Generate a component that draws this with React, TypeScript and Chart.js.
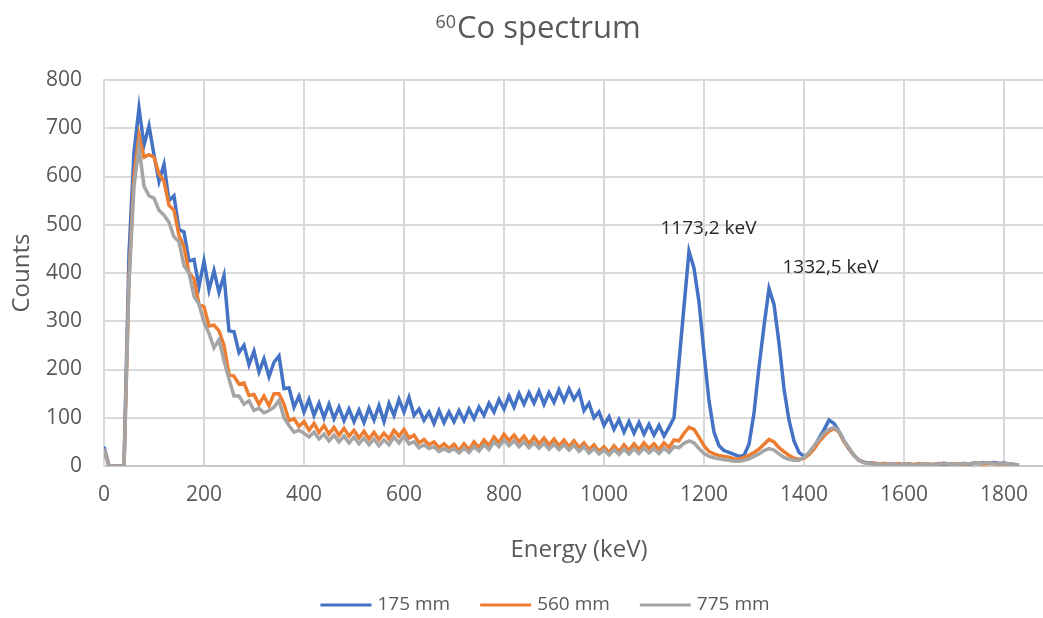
import React, { useEffect, useRef } from 'react';
import { Chart, registerables } from 'chart.js';

Chart.register(...registerables);

const energies = [
  0, 10, 20, 30, 40, 50, 60, 70, 80, 90,
  100, 110, 120, 130, 140, 150, 160, 170, 180, 190,
  200, 210, 220, 230, 240, 250, 260, 270, 280, 290,
  300, 310, 320, 330, 340, 350, 360, 370, 380, 390,
  400, 410, 420, 430, 440, 450, 460, 470, 480, 490,
  500, 510, 520, 530, 540, 550, 560, 570, 580, 590,
  600, 610, 620, 630, 640, 650, 660, 670, 680, 690,
  700, 710, 720, 730, 740, 750, 760, 770, 780, 790,
  800, 810, 820, 830, 840, 850, 860, 870, 880, 890,
  900, 910, 920, 930, 940, 950, 960, 970, 980, 990,
  1000, 1010, 1020, 1030, 1040, 1050, 1060, 1070, 1080, 1090,
  1100, 1110, 1120, 1130, 1140, 1150, 1160, 1170, 1180, 1190,
  1200, 1210, 1220, 1230, 1240, 1250, 1260, 1270, 1280, 1290,
  1300, 1310, 1320, 1330, 1340, 1350, 1360, 1370, 1380, 1390,
  1400, 1410, 1420, 1430, 1440, 1450, 1460, 1470, 1480, 1490,
  1500, 1510, 1520, 1530, 1540, 1550, 1560, 1570, 1580, 1590,
  1600, 1610, 1620, 1630, 1640, 1650, 1660, 1670, 1680, 1690,
  1700, 1710, 1720, 1730, 1740, 1750, 1760, 1770, 1780, 1790,
  1800, 1810, 1820, 1830,
];

const counts175 = [
  40, 0, 0, 0, 0, 440, 650, 742, 665, 705,
  645, 590, 625, 550, 560, 490, 485, 425, 428, 372,
  425, 365, 405, 360, 395, 280, 278, 235, 250, 210,
  238, 195, 222, 185, 215, 228, 160, 162, 122, 145,
  112, 138, 105, 130, 100, 128, 98, 122, 94, 118,
  92, 116, 90, 120, 95, 125, 92, 130, 105, 138,
  112, 142, 105, 118, 95, 112, 88, 115, 90, 112,
  92, 115, 94, 118, 98, 122, 105, 130, 112, 138,
  118, 145, 122, 150, 128, 152, 130, 155, 128, 152,
  132, 158, 135, 160, 138, 155, 115, 130, 100, 112,
  84, 102, 76, 96, 70, 92, 68, 90, 66, 86,
  64, 84, 62, 80, 100, 215, 331, 445, 410, 340,
  234, 135, 70, 42, 32, 28, 24, 20, 22, 45,
  110, 205, 290, 368, 335, 255, 160, 95, 52, 28,
  20, 24, 38, 58, 75, 95, 88, 72, 52, 35,
  22, 12, 8, 6, 5, 4, 5, 3, 4, 3,
  3, 4, 2, 3, 4, 2, 3, 5, 3, 4,
  3, 4, 5, 3, 6, 5, 7, 6, 7, 5,
  6, 4, 3, 2,
];

const counts560 = [
  35, 0, 0, 0, 0, 390, 600, 686, 640, 645,
  640, 605, 590, 540, 530, 478, 455, 400, 388, 335,
  330, 290, 292, 280, 250, 190, 186, 170, 172, 146,
  148, 128, 145, 125, 150, 150, 128, 94, 98, 82,
  92, 74, 88, 70, 84, 66, 80, 64, 78, 62,
  74, 58, 72, 56, 70, 55, 68, 56, 74, 62,
  76, 58, 64, 48, 55, 44, 50, 38, 46, 36,
  45, 32, 46, 34, 50, 38, 54, 42, 60, 48,
  66, 52, 64, 50, 62, 46, 60, 46, 58, 44,
  56, 42, 54, 40, 52, 38, 48, 34, 44, 30,
  40, 28, 42, 30, 44, 32, 46, 34, 48, 36,
  46, 34, 48, 38, 54, 52, 68, 80, 76, 60,
  42, 30, 25, 22, 20, 18, 15, 14, 18, 22,
  28, 35, 45, 55, 50, 38, 30, 22, 16, 14,
  16, 24, 35, 50, 62, 72, 78, 70, 50, 36,
  22, 12, 7, 5, 6, 4, 5, 4, 3, 5,
  3, 4, 3, 5, 3, 4, 3, 4, 6, 3,
  4, 3, 5, 4, 6, 5, 4, 6, 5, 4,
  5, 4, 3, 2,
];

const counts775 = [
  35, 0, 0, 0, 0, 380, 580, 660, 580, 560,
  555, 530, 520, 505, 475, 465, 415, 400, 352, 335,
  298, 275, 245, 262, 218, 180, 145, 145, 128, 135,
  115, 120, 110, 115, 122, 136, 100, 84, 70, 74,
  68, 60, 70, 56, 66, 52, 64, 50, 62, 48,
  60, 46, 58, 44, 56, 42, 54, 44, 60, 48,
  62, 46, 50, 38, 44, 36, 40, 30, 36, 30,
  36, 27, 37, 28, 40, 31, 44, 34, 50, 40,
  54, 42, 52, 40, 50, 38, 48, 37, 47, 35,
  45, 34, 44, 33, 43, 30, 40, 27, 36, 25,
  33, 23, 34, 24, 35, 25, 36, 26, 37, 27,
  36, 26, 37, 28, 40, 38, 47, 52, 48, 36,
  26, 20, 17, 15, 13, 12, 10, 10, 12, 15,
  20, 25, 32, 36, 33, 25, 18, 14, 12, 12,
  18, 28, 42, 55, 68, 76, 80, 72, 52, 38,
  22, 12, 7, 5, 4, 4, 3, 4, 3, 3,
  4, 3, 2, 3, 4, 3, 3, 4, 5, 4,
  3, 4, 5, 4, 6, 5, 6, 7, 5, 4,
  5, 4, 3, 2,
];

const seriesLabels = ['175 mm', '560 mm', '775 mm'];
const seriesColors = ['#4472C4', '#ED7D31', '#A5A5A5'];
const xTicks = [0, 200, 400, 600, 800, 1000, 1200, 1400, 1600, 1800];
const yTicks = [0, 100, 200, 300, 400, 500, 600, 700, 800];
const peakLabels = ['1173,2 keV', '1332,5 keV'];
const peakLabelEnergy = [1209, 1453];
const peakLabelCounts = [492, 411];

const FONT = '"Open Sans", "Noto Sans", sans-serif';

const titlePlugin = {
  id: 'coTitle',
  afterDraw(chart: any) {
    const ctx = chart.ctx as CanvasRenderingContext2D;
    ctx.save();
    const sup = '60';
    const main = 'Co spectrum';
    ctx.font = `18px ${FONT}`;
    const w1 = ctx.measureText(sup).width;
    ctx.font = `31px ${FONT}`;
    const w2 = ctx.measureText(main).width;
    const start = chart.width / 2 - (w1 + 1 + w2) / 2;
    ctx.fillStyle = '#595959';
    ctx.textBaseline = 'alphabetic';
    ctx.textAlign = 'left';
    ctx.font = `18px ${FONT}`;
    ctx.fillText(sup, start, 28);
    ctx.font = `31px ${FONT}`;
    ctx.fillText(main, start + w1 + 1, 38);
    ctx.restore();
  },
};

const peakLabelPlugin = {
  id: 'peakLabels',
  afterDatasetsDraw(chart: any) {
    const ctx = chart.ctx as CanvasRenderingContext2D;
    const xs = chart.scales.x;
    const ys = chart.scales.y;
    ctx.save();
    ctx.font = `19px ${FONT}`;
    ctx.fillStyle = '#262626';
    ctx.textAlign = 'center';
    ctx.textBaseline = 'middle';
    peakLabels.forEach((t, i) => {
      ctx.fillText(t, xs.getPixelForValue(peakLabelEnergy[i]), ys.getPixelForValue(peakLabelCounts[i]));
    });
    ctx.restore();
  },
};

const legendPlugin = {
  id: 'bottomLegend',
  afterDraw(chart: any) {
    const ctx = chart.ctx as CanvasRenderingContext2D;
    ctx.save();
    ctx.font = `19px ${FONT}`;
    const lineLen = 51;
    const gap = 6;
    const spacing = 30;
    const widths = seriesLabels.map((l) => lineLen + gap + ctx.measureText(l).width);
    const total = widths.reduce((a, b) => a + b, 0) + spacing * (seriesLabels.length - 1);
    let x = chart.width / 2 + 7 - total / 2;
    const y = 605;
    seriesLabels.forEach((l, i) => {
      ctx.strokeStyle = seriesColors[i];
      ctx.lineWidth = 3;
      ctx.beginPath();
      ctx.moveTo(x, y);
      ctx.lineTo(x + lineLen, y);
      ctx.stroke();
      ctx.fillStyle = '#595959';
      ctx.textAlign = 'left';
      ctx.textBaseline = 'middle';
      ctx.fillText(l, x + lineLen + gap, y);
      x += widths[i] + spacing;
    });
    ctx.restore();
  },
};

export default function App() {
  const canvasRef = useRef<HTMLCanvasElement | null>(null);

  useEffect(() => {
    const canvas = canvasRef.current;
    if (!canvas) return;
    const seriesValues = [counts175, counts560, counts775];
    const chart = new Chart(canvas, {
      type: 'line',
      data: {
        datasets: seriesValues.map((vals, si) => ({
          label: seriesLabels[si],
          data: energies.map((e, i) => ({ x: e, y: vals[i] })),
          borderColor: seriesColors[si],
          backgroundColor: seriesColors[si],
          borderWidth: 3.5,
          pointRadius: 0,
          tension: 0,
          order: 2 - si,
        })),
      },
      options: {
        responsive: false,
        animation: false,
        devicePixelRatio: 1,
        layout: { padding: { top: 80, right: 22, left: 0, bottom: 53 } },
        plugins: {
          title: { display: false },
          tooltip: { enabled: false },
          legend: { display: false },
        },
        scales: {
          x: {
            type: 'linear',
            min: 0,
            max: 1900,
            afterBuildTicks: (scale: any) => {
              scale.ticks = xTicks.map((v) => ({ value: v }));
            },
            afterFit: (scale: any) => {
              scale.height = 99;
            },
            grid: { color: '#D9D9D9', lineWidth: 2, drawTicks: false },
            border: { color: '#C8C8C8', width: 2 },
            ticks: {
              color: '#595959',
              font: { family: FONT, size: 21 },
              padding: 16,
              maxRotation: 0,
              autoSkip: false,
              callback: (v: any) => String(v),
            },
            title: {
              display: true,
              text: 'Energy (keV)',
              color: '#595959',
              font: { family: FONT, size: 24 },
              padding: { top: 14, bottom: 0 },
            },
          },
          y: {
            type: 'linear',
            min: 0,
            max: 800,
            afterBuildTicks: (scale: any) => {
              scale.ticks = yTicks.map((v) => ({ value: v }));
            },
            afterFit: (scale: any) => {
              scale.width = 104;
            },
            grid: { color: '#D9D9D9', lineWidth: 2, drawTicks: false },
            border: { color: '#D9D9D9', width: 2 },
            ticks: {
              color: '#595959',
              font: { family: FONT, size: 21 },
              padding: 22,
              autoSkip: false,
              callback: (v: any) => String(v),
            },
            title: {
              display: true,
              text: 'Counts',
              color: '#595959',
              font: { family: FONT, size: 24 },
              padding: { top: 8, bottom: 0 },
            },
          },
        },
      },
      plugins: [titlePlugin, peakLabelPlugin, legendPlugin],
    } as any);
    return () => chart.destroy();
  }, []);

  return (
    <div style={{ position: 'fixed', left: 0, top: 0, width: 1043, height: 618, overflow: 'hidden', background: '#fff' }}>
      <canvas ref={canvasRef} width={1076} height={618} style={{ width: 1076, height: 618, display: 'block' }} />
    </div>
  );
}
